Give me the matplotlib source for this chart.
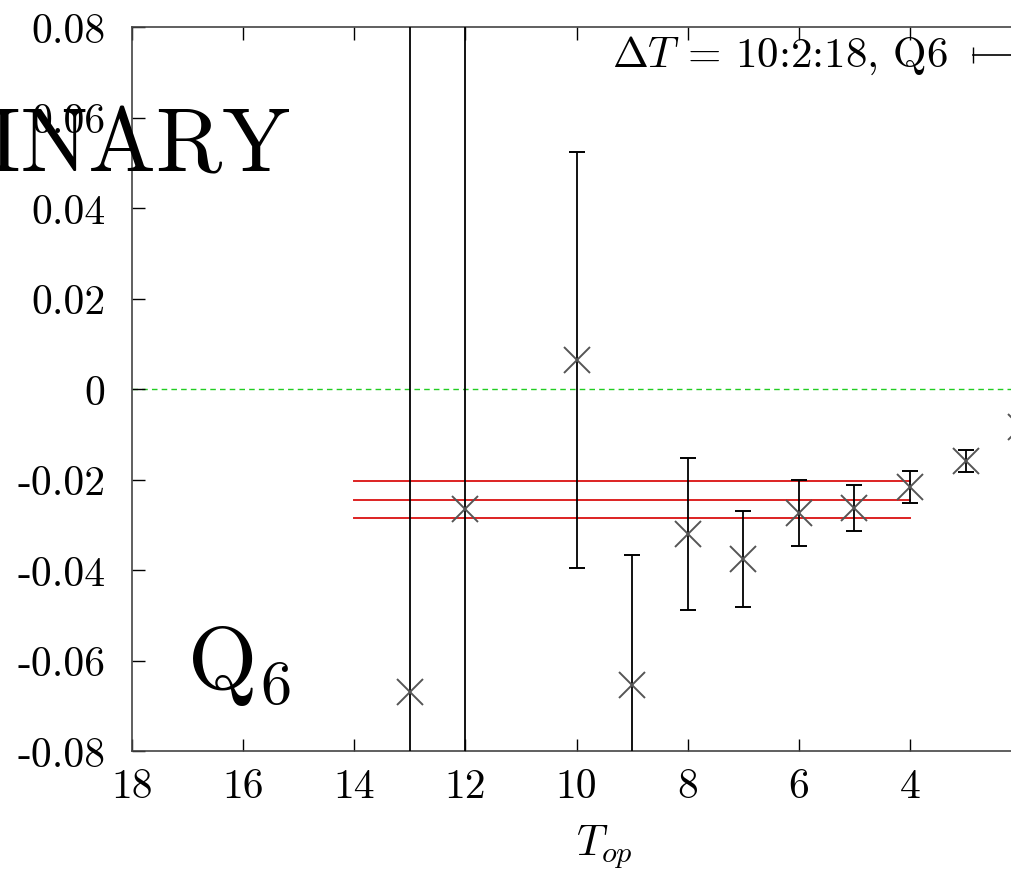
import matplotlib
matplotlib.use("Agg")
import matplotlib.pyplot as plt
import numpy as np

plt.rcParams["font.family"] = "cmr10"
plt.rcParams["mathtext.fontset"] = "cm"
plt.rcParams["axes.unicode_minus"] = False

# effective matrix element vs operator time slice
t_op = [13, 12, 10, 9, 8, 7, 6, 5, 4, 3, 2]
value = [-0.067, -0.0265, 0.0064, -0.0654, -0.032, -0.0376, -0.0274, -0.0263, -0.0217, -0.0159, -0.0084]
error = [0.2, 0.2, 0.046, 0.0287, 0.0168, 0.0106, 0.0073, 0.0051, 0.0035, 0.0025, 0.002]

# plateau fit over 4..14
fit_range = [14, 4]
fit_value = -0.0245
fit_error = 0.0041

x_ticks = [18, 16, 14, 12, 10, 8, 6, 4]
y_ticks = [0.08, 0.06, 0.04, 0.02, 0, -0.02, -0.04, -0.06, -0.08]
y_labels = ["0.08", "0.06", "0.04", "0.02", "0", "-0.02", "-0.04", "-0.06", "-0.08"]

fig = plt.figure(figsize=(10.12, 8.7), dpi=100)
ax = fig.add_axes([0.1304, 0.1356, 0.9335, 0.8322])

ax.axhline(0, color="#22cc22", lw=1.0, ls=(0, (4, 3)), zorder=1)

for off in (-fit_error, 0, fit_error):
    ax.plot(fit_range, [fit_value + off] * 2, color="#dd2222", lw=1.4, zorder=2)

ax.errorbar(t_op, value, yerr=error, fmt="x", color="#555555", ecolor="black",
            elinewidth=1.3, capsize=6, capthick=1.3, markersize=19,
            markeredgewidth=1.4, zorder=3)

ax.set_xlim(18, 1)
ax.set_ylim(-0.08, 0.08)
ax.set_xticks(x_ticks)
ax.set_xticklabels([str(t) for t in x_ticks])
ax.set_yticks(y_ticks)
ax.set_yticklabels(y_labels)
ax.tick_params(direction="in", length=9, width=1, top=True, right=True,
               labelsize=30)
ax.tick_params(axis="x", pad=12)
ax.tick_params(axis="y", pad=19)
for s in ax.spines.values():
    s.set_linewidth(1.2)
    s.set_color("#444444")

ax.set_xlabel(r"$T_{op}$", fontsize=31, labelpad=12)

# key
ax.text(0.864, 0.962, r"$\Delta T$ = 10:2:18, Q6", transform=ax.transAxes,
        ha="right", va="center", fontsize=31)
ax.plot([0.89, 0.96], [0.962, 0.962], transform=ax.transAxes, color="black",
        lw=1.2, marker="|", markevery=[0], markersize=12, clip_on=False)

fig.text(0.2866, 0.829, "PRELIMINARY", ha="right", va="center", fontsize=65)
fig.text(0.185, 0.235, r"$\mathrm{Q}_6$", ha="left", va="center", fontsize=64)

fig.savefig("out.png", dpi=100)
